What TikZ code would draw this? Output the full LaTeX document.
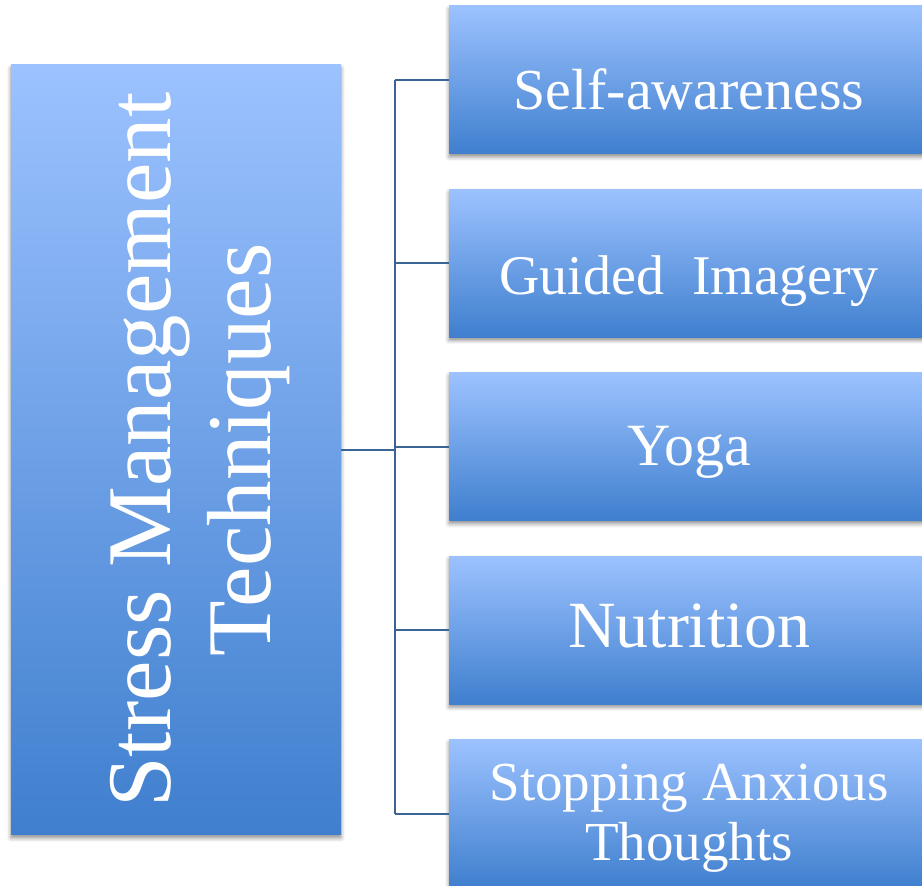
\documentclass[tikz,border=0pt]{standalone}
\usepackage{fontspec}
\setmainfont{Liberation Serif}
\usepackage{tikz}
\usetikzlibrary{positioning,shadows.blur}

\definecolor{boxtop}{HTML}{9CC2FF}
\definecolor{boxbot}{HTML}{3F7FCE}
\definecolor{linkblue}{HTML}{3B6496}

\begin{document}
\begin{tikzpicture}[
        x=1pt, y=1pt,
        box/.style={rectangle, inner sep=0pt, top color=boxtop, bottom color=boxbot,
            blur shadow={shadow xshift=0pt, shadow yshift=-3pt, shadow blur radius=4pt, shadow opacity=45}},
        item/.style={box, minimum width=480pt, minimum height=148pt},
        label/.style={text=white, inner sep=0pt},
        link/.style={draw=linkblue, line width=2pt}
    ]
        \useasboundingbox (0,0) rectangle (922,886);

        % Nodes
        \node[box, minimum width=330pt, minimum height=770pt] (main) at (176,436) {};
        \node[item] (b1) at (689,806) {};
        \node[item, below=35pt of b1] (b2) {};
        \node[item, below=35pt of b2] (b3) {};
        \node[item, below=35pt of b3] (b4) {};
        \node[item, below=35pt of b4] (b5) {};

        % Texts
        \node[label, rotate=90, align=center, font=\fontsize{91}{100}\selectfont] (title) at (200,436) {Stress Management\\Techniques};
        \node[label, anchor=base, font=\fontsize{58}{60}\selectfont] (t1) at ([yshift=-30pt]b1.center) {Self-awareness};
        \node[label, anchor=base, font=\fontsize{56}{60}\selectfont] (t2) at ([yshift=-31pt]b2.center) {Guided~~Imagery};
        \node[label, anchor=base, font=\fontsize{60}{60}\selectfont] (t3) at ([yshift=-19pt]b3.center) {Yoga};
        \node[label, anchor=base, font=\fontsize{66}{60}\selectfont] (t4) at ([yshift=-17pt]b4.center) {Nutrition};
        \node[label, align=center, font=\fontsize{55}{60}\selectfont] (t5) at ([yshift=-5pt]b5.center) {Stopping Anxious\\Thoughts};

        % Edges
        \coordinate (hub) at ([xshift=54pt]main.east);
        \draw[link, line width=2.5pt] (main.east) -- (hub);
        \draw[link] (hub |- b1.west) -- (hub |- b5.west);
        \foreach \i in {1,...,5}
            \draw[link] (hub |- b\i.west) -- (b\i.west);
    \end{tikzpicture}
\end{document}
